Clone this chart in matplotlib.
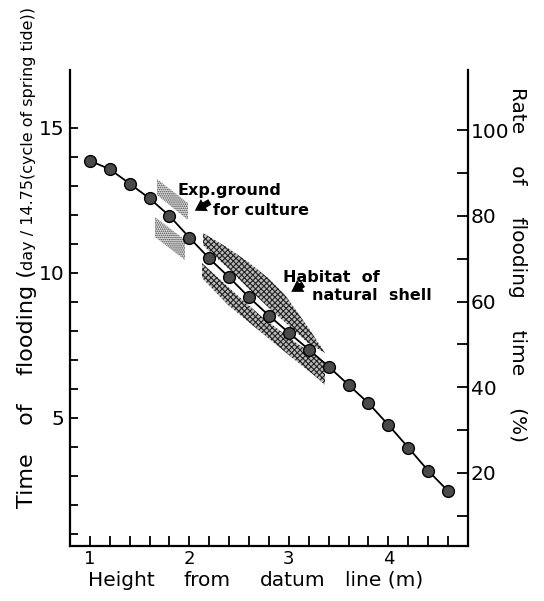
import matplotlib
matplotlib.use("Agg")
import matplotlib.pyplot as plt
from matplotlib.ticker import FixedLocator
import numpy as np

plt.rcParams['font.family'] = ['DejaVu Sans']
plt.rcParams['hatch.linewidth'] = 0.8

# ---- data ----
height_m = [1.0, 1.2, 1.4, 1.6, 1.8, 2.0, 2.2, 2.4, 2.6, 2.8,
            3.0, 3.2, 3.4, 3.6, 3.8, 4.0, 4.2, 4.4, 4.6]
flood_days = [13.87, 13.58, 13.08, 12.57, 11.97, 11.22, 10.50, 9.85, 9.16, 8.53,
              7.94, 7.36, 6.77, 6.14, 5.51, 4.76, 3.98, 3.18, 2.48]

# shaded zones (height m, days)
exp_upper_x = [1.674, 1.986, 1.986, 1.674]
exp_upper_y = [13.24, 12.41, 11.83, 12.69]
exp_lower_x = [1.654, 1.956, 1.956, 1.654]
exp_lower_y = [11.93, 11.14, 10.45, 11.24]
hab_upper_x = [2.137, 2.388, 2.589, 2.790, 2.961, 3.091, 3.212, 3.363,
               3.192, 2.991, 2.790, 2.589, 2.388, 2.187, 2.137]
hab_upper_y = [11.38, 10.86, 10.38, 9.83, 9.24, 8.62, 8.03, 7.24,
               7.59, 8.21, 8.83, 9.48, 10.17, 10.79, 10.97]
hab_lower_x = [2.127, 2.388, 2.730, 3.061, 3.292, 3.363,
               3.363, 3.262, 3.061, 2.730, 2.388, 2.127]
hab_lower_y = [10.34, 9.52, 8.48, 7.62, 7.07, 6.93,
               6.14, 6.45, 7.00, 7.93, 8.90, 9.83]

left_major = [5, 10, 15]
right_major = [20, 40, 60, 80, 100]
x_major = [1, 2, 3, 4]
x_words = ['Height', 'from', 'datum', 'line (m)']

W, H = 544, 601
fig = plt.figure(figsize=(W/100, H/100), dpi=100)
L, R, T, B = 70, 468, 70, 546
ax = fig.add_axes([L/W, 1 - B/H, (R-L)/W, (B-T)/H])

ax.fill(exp_upper_x, exp_upper_y, facecolor='#e4e4e4', edgecolor='#444444', hatch='........', lw=0)
ax.fill(exp_lower_x, exp_lower_y, facecolor='#e4e4e4', edgecolor='#444444', hatch='........', lw=0)
ax.fill(hab_upper_x, hab_upper_y, facecolor='#bbbbbb', edgecolor='#222222', hatch='xxxxxx', lw=0)
ax.fill(hab_lower_x, hab_lower_y, facecolor='#bbbbbb', edgecolor='#222222', hatch='xxxxxx', lw=0)

ax.plot(height_m, flood_days, color='black', lw=1.3, marker='o', ms=8.5,
        mfc='#4a4a4a', mec='black', mew=1.0, zorder=5)

ax.set_xlim(0.8, 4.8)
ax.set_ylim(0.586, 17.0)
ax.spines['top'].set_visible(False)
ax.spines['right'].set_visible(False)
for s in ['left', 'bottom']:
    ax.spines[s].set_linewidth(1.6)

ax.xaxis.set_major_locator(FixedLocator(x_major))
ax.xaxis.set_minor_locator(FixedLocator([v for v in np.arange(1.0, 4.7, 0.2)]))
ax.yaxis.set_major_locator(FixedLocator(left_major))
ax.yaxis.set_minor_locator(FixedLocator(list(range(1, 16))))
ax.tick_params(axis='both', which='both', direction='in', width=1.3, labelsize=14.5)
ax.tick_params(axis='x', which='both', length=7, pad=3, labelsize=13)
ax.tick_params(axis='y', which='both', length=6, pad=4)

ax2 = ax.twinx()
ax2.set_ylim(2.97, 114.0)
for s in ['top', 'left', 'bottom']:
    ax2.spines[s].set_visible(False)
ax2.spines['right'].set_linewidth(1.6)
ax2.yaxis.set_major_locator(FixedLocator(right_major))
ax2.yaxis.set_minor_locator(FixedLocator(list(range(10, 101, 10))))
ax2.tick_params(axis='y', which='both', direction='in', length=8, width=1.3,
                labelsize=14.5, pad=2)

# annotations
arrow_style = 'simple,head_length=0.8,head_width=1.0,tail_width=0.45'
ax.text(1.885, 12.69, 'Exp.ground', fontsize=11.5, fontweight='bold', ha='left', va='baseline')
ax.text(2.237, 12.0, 'for culture', fontsize=11.5, fontweight='bold', ha='left', va='baseline')
ax.annotate('', xy=(2.03, 12.10), xytext=(2.23, 12.50),
            arrowprops=dict(arrowstyle=arrow_style, color='black', lw=0))
ax.text(2.941, 9.69, 'Habitat  of', fontsize=11.5, fontweight='bold', ha='left', va='baseline')
ax.text(3.232, 9.07, 'natural  shell', fontsize=11.5, fontweight='bold', ha='left', va='baseline')
ax.annotate('', xy=(3.00, 9.30), xytext=(3.17, 9.66),
            arrowprops=dict(arrowstyle=arrow_style, color='black', lw=0))

# axis labels
fig.text(33/W, 1 - 508/H, 'Time    of    flooding (', fontsize=16, rotation=90,
         rotation_mode='anchor', ha='left', va='baseline')
fig.text(33/W, 1 - 270/H, 'day / 14.75(cycle of spring tide))', fontsize=11.5, rotation=90,
         rotation_mode='anchor', ha='left', va='baseline')
fig.text(512/W, 1 - 87/H, 'Rate     of     flooding     time     (%)', fontsize=14.5, rotation=-90,
         rotation_mode='anchor', ha='left', va='baseline')
for word, px in zip(x_words, [88, 183, 260, 345]):
    fig.text(px/W, 1 - 586/H, word, fontsize=14.5, ha='left', va='baseline')

fig.savefig('out.png', dpi=100)
